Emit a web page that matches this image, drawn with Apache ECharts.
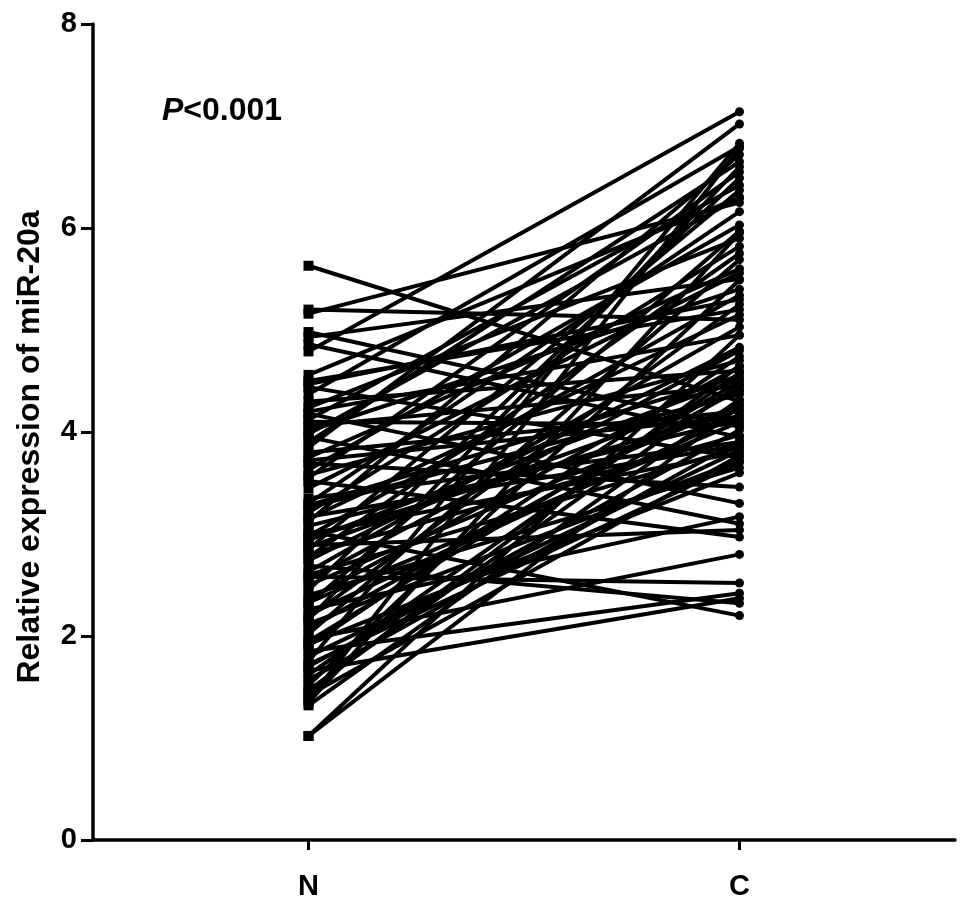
<!DOCTYPE html>
<html>
<head>
<meta charset="utf-8">
<script src="https://cdn.jsdelivr.net/npm/echarts@6/dist/echarts.min.js"></script>
<style>
  html, body { margin: 0; padding: 0; background: #fff; }
  #chart { width: 969px; height: 906px; }
</style>
</head>
<body>
<div id="chart"></div>
<script>
// groups on the x axis
var groups = ['N', 'C'];
// paired values: normal tissue (N) and cancer tissue (C), same order
var normalVals = [5.63, 5.20, 5.16, 4.98, 4.93, 4.86, 4.79, 4.56, 4.50, 4.44, 4.37, 4.30, 4.24, 4.18, 4.12,
  4.06, 4.01, 3.95, 3.90, 3.85, 3.80, 3.75, 3.69, 3.63, 3.58, 3.52, 3.30, 3.26, 3.21, 3.17,
  3.12, 3.08, 3.03, 2.98, 2.94, 2.89, 2.85, 2.80, 2.74, 2.69, 2.63, 2.58, 2.50, 2.45, 2.40,
  2.36, 2.31, 2.26, 2.21, 2.16, 2.12, 2.07, 2.02, 1.97, 1.90, 1.85, 1.80, 1.75, 1.70, 1.66,
  1.62, 1.57, 1.52, 1.47, 1.42, 1.37, 1.32, 1.02, 1.02, 4.10, 3.35, 2.96, 3.45, 2.55, 1.92,
  4.47, 4.20, 3.98, 3.72, 3.55, 3.28, 3.15, 3.00, 2.87, 2.77, 2.60, 2.33, 2.18, 1.95, 1.72,
  1.45, 1.35];
var cancerVals = [4.30, 5.10, 6.25, 4.05, 5.50, 3.95, 7.14, 6.30, 5.20, 3.75, 6.80, 4.60, 5.90, 3.30, 6.42,
  4.45, 5.40, 3.10, 6.65, 7.02, 4.20, 5.60, 3.46, 6.03, 4.70, 2.97, 6.16, 4.37, 5.82, 3.87,
  6.72, 4.12, 2.20, 5.34, 4.52, 3.04, 6.37, 3.97, 4.83, 2.32, 5.03, 2.52, 4.27, 6.49, 3.65,
  4.64, 5.97, 3.17, 4.17, 6.60, 3.72, 4.42, 5.69, 2.80, 4.74, 2.42, 3.82, 6.83, 4.02, 2.37,
  4.58, 3.92, 5.49, 4.47, 3.77, 6.78, 4.32, 4.25, 4.95, 4.07, 3.90, 4.22, 5.56, 4.80, 3.60,
  5.30, 4.95, 6.30, 4.15, 6.55, 4.55, 5.15, 3.80, 4.40, 5.75, 3.85, 4.10, 5.25, 4.50, 3.70,
  4.65, 5.95];
var yTicks = { min: 0, max: 8, step: 2 };

var font = "'Liberation Sans', Arial, sans-serif";

var series = [];
for (var i = 0; i < normalVals.length; i++) {
  series.push({
    type: 'line',
    data: [
      { value: normalVals[i], symbol: 'rect', symbolSize: 10 },
      { value: cancerVals[i], symbol: 'circle', symbolSize: 9 }
    ],
    showSymbol: true,
    lineStyle: { color: '#000', width: 4 },
    itemStyle: { color: '#000' },
    emphasis: { disabled: true },
    z: 2
  });
}

var myChart = echarts.init(document.getElementById('chart'));
var option = {
  animation: false,
  backgroundColor: '#fff',
  title: {
    left: 157,
    top: 90,
    text: '{i|P}{n|<0.001}',
    textStyle: {
      rich: {
        i: { fontFamily: font, fontWeight: 'bold', fontStyle: 'italic', fontSize: 32, color: '#000' },
        n: { fontFamily: font, fontWeight: 'bold', fontSize: 32, color: '#000' }
      }
    }
  },
  grid: { left: 93, top: 24, right: 14, bottom: 66, outerBoundsMode: 'none' },
  xAxis: {
    type: 'category',
    data: groups,
    boundaryGap: true,
    axisLine: { show: true, lineStyle: { color: '#000', width: 3.5 } },
    axisTick: { show: true, alignWithLabel: true, length: 10, lineStyle: { color: '#000', width: 3 } },
    axisLabel: { margin: 32, fontFamily: font, fontWeight: 'bold', fontSize: 29, color: '#000' },
    splitLine: { show: false }
  },
  yAxis: {
    type: 'value',
    min: yTicks.min,
    max: yTicks.max,
    interval: yTicks.step,
    name: 'Relative expression of miR-20a',
    nameLocation: 'middle',
    nameGap: 47,
    nameTextStyle: { fontFamily: font, fontWeight: 'bold', fontSize: 32, color: '#000', padding: [0, 30, 0, 0] },
    axisLine: { show: true, lineStyle: { color: '#000', width: 3.5 } },
    axisTick: { show: true, length: 12, lineStyle: { color: '#000', width: 3 } },
    axisLabel: { margin: 16, fontFamily: font, fontWeight: 'bold', fontSize: 29, color: '#000' },
    splitLine: { show: false }
  },
  series: series
};
myChart.setOption(option);
</script>
</body>
</html>
